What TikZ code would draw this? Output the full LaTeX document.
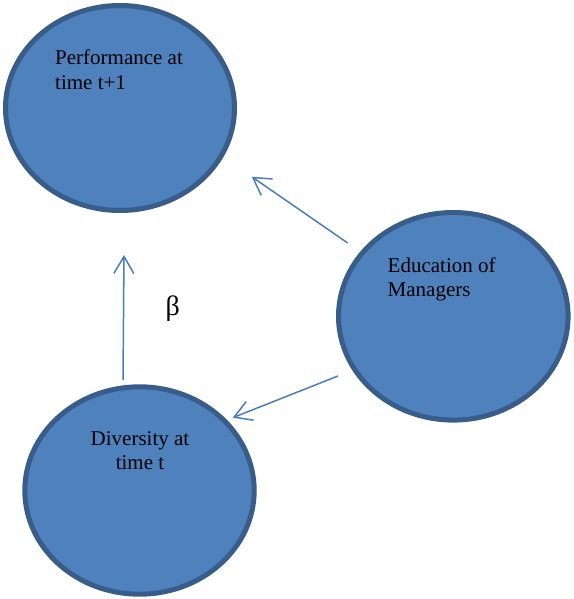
\documentclass[tikz,border=0pt]{standalone}
\usepackage{fontspec}
\setmainfont{Liberation Serif}
\usetikzlibrary{shapes.geometric,arrows.meta}
\definecolor{ellfill}{HTML}{4F81BD}
\definecolor{ellborder}{HTML}{385D8A}
\definecolor{arrcol}{HTML}{4A7EBB}
\tikzset{
  blob/.style={ellipse, draw=ellborder, fill=ellfill, line width=5pt, inner sep=0pt},
  lbl/.style={inner sep=0pt, font=\fontsize{21}{24.5}\selectfont, text=black},
  link/.style={draw=arrcol, line width=1.5pt, -{Straight Barb[length=17pt,width=20pt,line width=1.5pt]}}
}
\begin{document}
\begin{tikzpicture}[x=1pt,y=-1pt]
\useasboundingbox (0,0) rectangle (573,599);
\node[blob, minimum width=229pt, minimum height=205pt] (perf) at (120,108) {};
\node[blob, minimum width=229.6pt, minimum height=207.6pt] (edu) at (453.3,316.3) {};
\node[blob, minimum width=229.4pt, minimum height=207.4pt] (div) at (139.5,490.5) {};
\node[lbl, anchor=north west, align=left] (perft) at (55,50) {Performance at\\time t+1};
\node[lbl, anchor=north west, align=left] (edut) at (387.5,257.5) {Education of\\Managers};
\node[lbl, anchor=north, align=center] (divt) at (140,431) {Diversity at\\time t};
\node[inner sep=0pt, font=\fontsize{28}{30}\selectfont] (beta) at (172.7,309) {β};
\coordinate (a1s) at (347.7,243);
\coordinate (a1e) at (251.7,176.7);
\coordinate (a2s) at (338,376);
\coordinate (a2e) at (232.7,417.7);
\coordinate (a3s) at (123,380);
\coordinate (a3e) at (124,255);
\draw[link] (a1s) -- (a1e);
\draw[link] (a2s) -- (a2e);
\draw[link] (a3s) -- (a3e);
\end{tikzpicture}
\end{document}
